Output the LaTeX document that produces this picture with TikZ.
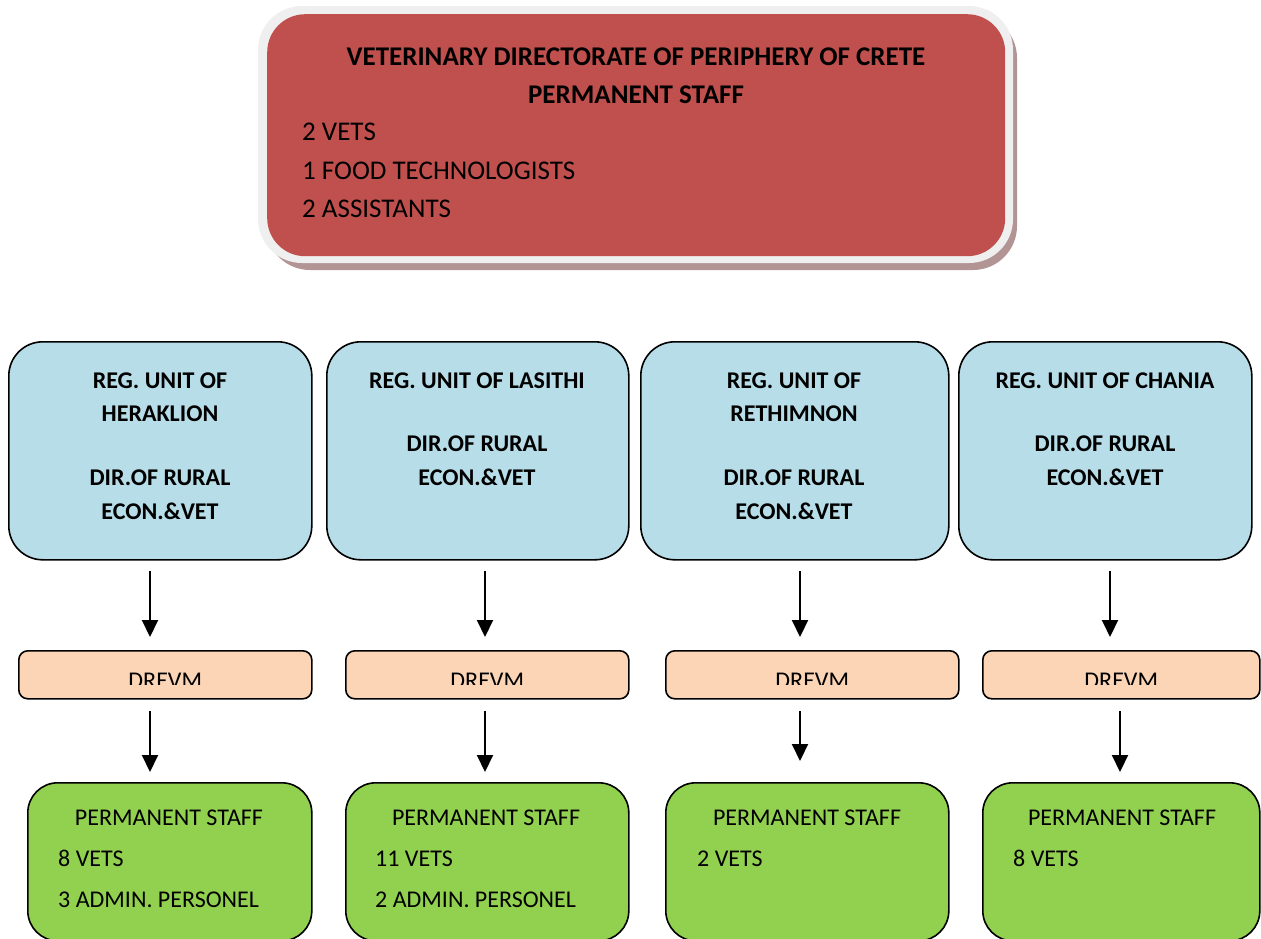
\documentclass[tikz,border=0pt]{standalone}
\usepackage{fontspec}
\setmainfont{Carlito}
\usetikzlibrary{arrows.meta}
\definecolor{redbox}{HTML}{C0504D}
\definecolor{bluefill}{HTML}{B7DDE8}
\definecolor{peach}{HTML}{FBD5B5}
\definecolor{greenfill}{HTML}{92D050}
\definecolor{shadowc}{HTML}{B39494}
\definecolor{rimc}{HTML}{EFEFEF}
\begin{document}
\begin{tikzpicture}[x=1pt,y=-1pt,
  bluebx/.style={draw=black, line width=1.6pt, fill=bluefill, rounded corners=34pt, inner sep=0pt, anchor=north west},
  peachbx/.style={draw=black, line width=1.6pt, fill=peach, rounded corners=9pt, inner sep=0pt, anchor=north west},
  greenbx/.style={draw=black, line width=1.6pt, fill=greenfill, rounded corners=30pt, inner sep=0pt, anchor=north west},
  toptxt/.style={font=\fontsize{27}{27}\selectfont, inner sep=0pt},
  toptitle/.style={font=\bfseries\fontsize{27}{27}\selectfont, inner sep=0pt, anchor=base},
  bluetxt/.style={font=\bfseries\fontsize{24}{24}\selectfont, inner sep=0pt, anchor=base},
  greentxt/.style={font=\fontsize{24}{24}\selectfont, inner sep=0pt},
  arr/.style={line width=2pt, -{Triangle[width=16pt,length=17pt]}}
]
\useasboundingbox (0,0) rectangle (1261,938);

% ---------- top box ----------
\fill[shadowc, rounded corners=44pt] (266,14) rectangle (1017,270);
\fill[rimc, rounded corners=44pt] (258,6) rectangle (1013,263);
\node[draw=none, fill=redbox, rounded corners=38pt, minimum width=738pt, minimum height=242pt, inner sep=0pt, anchor=north west] (top) at (267,14) {};
\node[toptitle] (tt1) at (636,65) {VETERINARY DIRECTORATE OF PERIPHERY OF CRETE};
\node[toptitle] (tt2) at (636,103) {PERMANENT STAFF};
\node[toptxt, anchor=base west] (tl1) at (302,140) {2 VETS};
\node[toptxt, anchor=base west] (tl2) at (302,179) {1 FOOD TECHNOLOGISTS};
\node[toptxt, anchor=base west] (tl3) at (302,217) {2 ASSISTANTS};

% ---------- blue boxes ----------
\node[bluebx, minimum width=303pt, minimum height=218pt] (b1) at (8,341) {};
\node[bluebx, minimum width=302pt, minimum height=218pt] (b2) at (326,341) {};
\node[bluebx, minimum width=308pt, minimum height=218pt] (b3) at (640,341) {};
\node[bluebx, minimum width=293pt, minimum height=218pt] (b4) at (958,341) {};

\node[bluetxt] (b1a) at (160,388) {REG. UNIT OF};
\node[bluetxt] (b1b) at (160,421) {HERAKLION};
\node[bluetxt] (b1c) at (160,485) {DIR.OF RURAL};
\node[bluetxt] (b1d) at (160,519) {ECON.\&VET};

\node[bluetxt] (b2a) at (477,388) {REG. UNIT OF LASITHI};
\node[bluetxt] (b2b) at (477,451) {DIR.OF RURAL};
\node[bluetxt] (b2c) at (477,485) {ECON.\&VET};

\node[bluetxt] (b3a) at (794,388) {REG. UNIT OF};
\node[bluetxt] (b3b) at (794,421) {RETHIMNON};
\node[bluetxt] (b3c) at (794,485) {DIR.OF RURAL};
\node[bluetxt] (b3d) at (794,519) {ECON.\&VET};

\node[bluetxt] (b4a) at (1105,388) {REG. UNIT OF CHANIA};
\node[bluetxt] (b4b) at (1105,451) {DIR.OF RURAL};
\node[bluetxt] (b4c) at (1105,485) {ECON.\&VET};

% ---------- peach boxes ----------
\node[peachbx, minimum width=293pt, minimum height=48pt] (d1) at (18,650) {};
\node[peachbx, minimum width=283pt, minimum height=48pt] (d2) at (345,650) {};
\node[peachbx, minimum width=293pt, minimum height=48pt] (d3) at (665,650) {};
\node[peachbx, minimum width=277pt, minimum height=48pt] (d4) at (982,650) {};
\begin{scope}
\clip (0,650) rectangle (1261,684.5);
\node[greentxt, anchor=base] (d1t) at (d1.center |- 0,688) {DREVM};
\node[greentxt, anchor=base] (d2t) at (d2.center |- 0,688) {DREVM};
\node[greentxt, anchor=base] (d3t) at (d3.center |- 0,688) {DREVM};
\node[greentxt, anchor=base] (d4t) at (d4.center |- 0,688) {DREVM};
\end{scope}

% ---------- green boxes ----------
\node[greenbx, minimum width=284pt, minimum height=158pt] (g1) at (27,782) {};
\node[greenbx, minimum width=283pt, minimum height=158pt] (g2) at (345,782) {};
\node[greenbx, minimum width=283pt, minimum height=158pt] (g3) at (665,782) {};
\node[greenbx, minimum width=277pt, minimum height=158pt] (g4) at (982,782) {};

\node[greentxt, anchor=base] (g1a) at (169,825) {PERMANENT STAFF};
\node[greentxt, anchor=base west] (g1b) at (58,866) {8 VETS};
\node[greentxt, anchor=base west] (g1c) at (58,907) {3 ADMIN. PERSONEL};

\node[greentxt, anchor=base] (g2a) at (486,825) {PERMANENT STAFF};
\node[greentxt, anchor=base west] (g2b) at (375,866) {11 VETS};
\node[greentxt, anchor=base west] (g2c) at (375,907) {2 ADMIN. PERSONEL};

\node[greentxt, anchor=base] (g3a) at (807,825) {PERMANENT STAFF};
\node[greentxt, anchor=base west] (g3b) at (697,866) {2 VETS};

\node[greentxt, anchor=base] (g4a) at (1122,825) {PERMANENT STAFF};
\node[greentxt, anchor=base west] (g4b) at (1013,866) {8 VETS};

% ---------- arrows ----------
\coordinate (u1s) at (150,571); \coordinate (u1e) at (150,637);
\coordinate (u2s) at (485,571); \coordinate (u2e) at (485,637);
\coordinate (u3s) at (800,571); \coordinate (u3e) at (800,637);
\coordinate (u4s) at (1110,571); \coordinate (u4e) at (1110,637);
\coordinate (l1s) at (150,711); \coordinate (l1e) at (150,772);
\coordinate (l2s) at (485,711); \coordinate (l2e) at (485,772);
\coordinate (l3s) at (800,711); \coordinate (l3e) at (800,761);
\coordinate (l4s) at (1120,711); \coordinate (l4e) at (1120,772);
\foreach \a in {u1,u2,u3,u4,l1,l2,l3,l4}{
  \draw[arr] (\a s) -- (\a e);
}
\end{tikzpicture}
\end{document}
